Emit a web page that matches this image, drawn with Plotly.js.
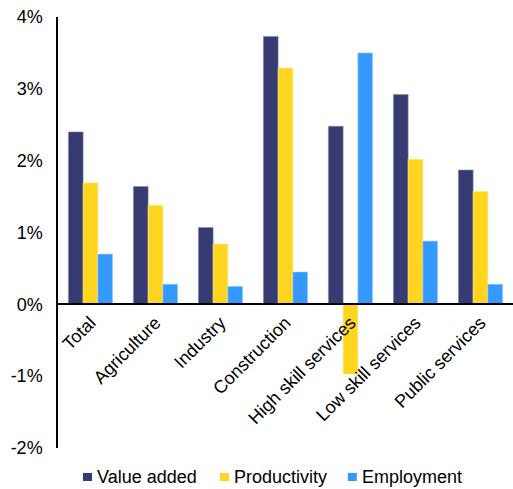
<!DOCTYPE html>
<html>
<head>
<meta charset="utf-8">
<script src="https://cdn.plot.ly/plotly-3.0.1.min.js"></script>
<style>html,body{margin:0;padding:0;background:#fff;}#chart{width:513px;height:489px;}</style>
</head>
<body>
<div id="chart"></div>
<script>
var categories = ["Total", "Agriculture", "Industry", "Construction", "High skill services", "Low skill services", "Public services"];
var valueAdded = [2.40, 1.64, 1.07, 3.73, 2.48, 2.92, 1.87];
var productivity = [1.69, 1.38, 0.84, 3.29, -0.97, 2.02, 1.57];
var employment = [0.70, 0.28, 0.25, 0.45, 3.50, 0.88, 0.28];
var seriesNames = ["Value added", "Productivity", "Employment"];
var yTickVals = [-2, -1, 0, 1, 2, 3, 4];
var yTickText = ["-2%", "-1%", "0%", "1%", "2%", "3%", "4%"];

var colors = ["#363B72", "#FFD520", "#3399FF"];
var outline = ["#8A8DB0", "#FFE98A", "#A0CCFF"];
var series = [valueAdded, productivity, employment];
var font = {family: "Liberation Sans, Arial, sans-serif", size: 18, color: "#000"};

var data = series.map(function (vals, i) {
  return {
    type: "bar",
    x: categories,
    y: vals.map(function (v) { return v / 100; }),
    name: seriesNames[i],
    marker: {color: colors[i], line: {color: outline[i], width: 0.6}},
    hoverinfo: "x+y",
    showlegend: false
  };
});

// Custom legend (layout only): square swatch + label per series
var legendSwatchX = [0.0549, 0.356, 0.637];
var shapes = [], annotations = [];
seriesNames.forEach(function (name, i) {
  var x0 = legendSwatchX[i];
  shapes.push({
    type: "rect", xref: "paper", yref: "paper",
    x0: x0, x1: x0 + 0.0198, y0: -0.0580, y1: -0.0766,
    fillcolor: colors[i], line: {width: 0}
  });
  annotations.push({
    xref: "paper", yref: "paper", x: x0 + 0.0264, y: -0.0673,
    xanchor: "left", yanchor: "middle", showarrow: false,
    text: name, font: font
  });
});

var layout = {
  width: 513, height: 489,
  margin: {l: 58, r: 0, t: 17, b: 41, pad: 0, autoexpand: false},
  paper_bgcolor: "#fff", plot_bgcolor: "#fff",
  font: font,
  barmode: "group",
  bargap: 0.32,
  bargroupgap: 0,
  showlegend: false,
  shapes: shapes,
  annotations: annotations,
  xaxis: {
    type: "category",
    anchor: "free", position: 1/3,
    showline: true, linecolor: "#000", linewidth: 1.5,
    ticks: "", tickangle: -45, tickfont: font,
    showgrid: false, zeroline: false, automargin: false
  },
  yaxis: {
    range: [-0.02, 0.04],
    tickvals: yTickVals.map(function (v) { return v / 100; }),
    ticktext: yTickText,
    showline: true, linecolor: "#000", linewidth: 1.5,
    ticks: "", ticklen: 0, tickfont: font, ticklabelstandoff: 10,
    showgrid: false, zeroline: false, automargin: false
  }
};

Plotly.newPlot("chart", data, layout, {displayModeBar: false});
</script>
</body>
</html>
